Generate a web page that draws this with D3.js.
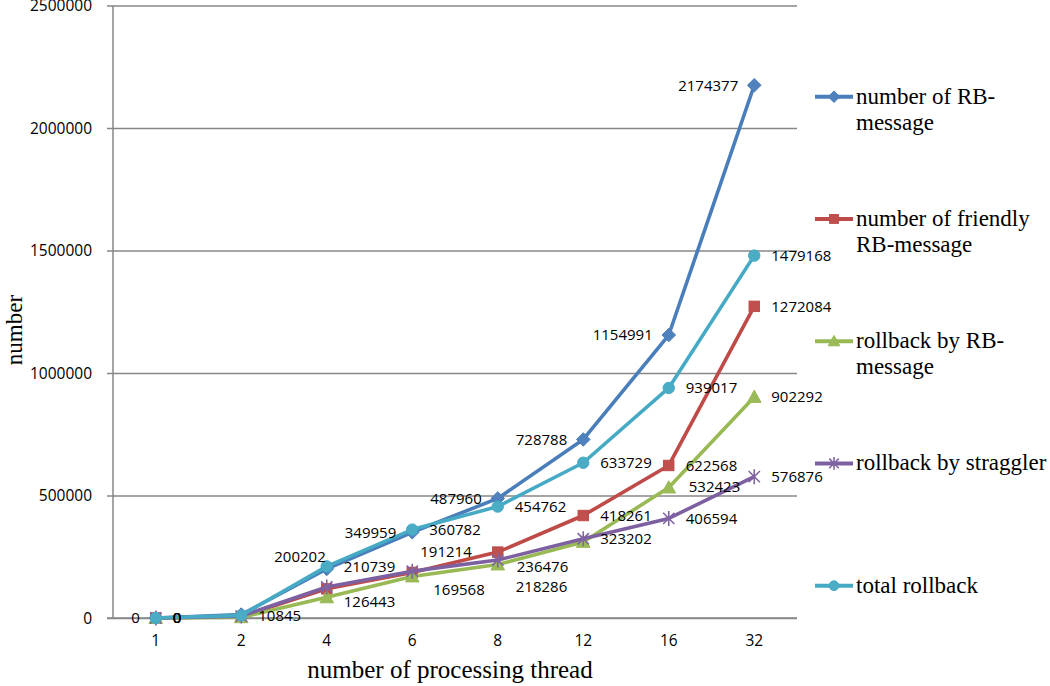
<!DOCTYPE html>
<html>
<head>
<meta charset="utf-8">
<script src="https://cdn.jsdelivr.net/npm/d3@7"></script>
<style>
  html, body { margin: 0; padding: 0; background: #fff; }
  svg { display: block; }
</style>
</head>
<body>
<svg id="chart" width="1050" height="686"></svg>
<script>
// ---------------- data ----------------
const categories = ["1", "2", "4", "6", "8", "12", "16", "32"];
const yTicks = [0, 500000, 1000000, 1500000, 2000000, 2500000];

const rbMessage       = [0, 14000, 200202, 349959, 487960, 728788, 1154991, 2174377];
const friendlyRB      = [0, 6000, 119000, 186000, 269000, 418261, 622568, 1272084];
const rollbackByRB    = [0, 3000, 84296, 169568, 218286, 310527, 532423, 902292];
const rollbackStrag   = [0, 7845, 126443, 191214, 236476, 323202, 406594, 576876];
const totalRollback   = [0, 10845, 210739, 360782, 454762, 633729, 939017, 1479168];

const seriesNames = [
  ["number of RB-", "message"],
  ["number of friendly", "RB-message"],
  ["rollback by RB-", "message"],
  ["rollback by straggler"],
  ["total rollback"]
];

// which points carry a visible data label
const labelIdx = [
  [0, 2, 3, 4, 5, 6, 7],
  [0, 5, 6, 7],
  [0, 3, 4, 6, 7],
  [0, 2, 3, 4, 5, 6, 7],
  [0, 1, 2, 3, 4, 5, 6, 7]
];

// ---------------- style ----------------
const styles = [
  { line: "#4A7EBB", fill: "#4F81BD", marker: "diamond", side: "left" },
  { line: "#BE4B48", fill: "#C0504D", marker: "square", side: "right" },
  { line: "#98B954", fill: "#9BBB59", marker: "triangle", side: "right" },
  { line: "#7D60A0", fill: "#8064A2", marker: "star", side: "right" },
  { line: "#46AAC5", fill: "#4BACC6", marker: "circle", side: "right" }
];
// manual label nudges (series index, point index) -> offset
const nudges = {
  "0-2": [15, -12],
  "3-2": [0, 15],
  "3-3": [-9, -19],
  "3-4": [2, 7],
  "2-3": [4, 13],
  "2-4": [1, 22],
  "2-6": [3, -1]
};

const seriesValues = [rbMessage, friendlyRB, rollbackByRB, rollbackStrag, totalRollback];

const W = 1050, H = 686;
const plot = { left: 113, right: 797, top: 5.5, bottom: 618 };
const svg = d3.select("#chart");

const x = d3.scaleBand().domain(categories).range([plot.left, plot.right]);
const cx = c => x(c) + x.bandwidth() / 2;
const y = d3.scaleLinear().domain([0, 2500000]).range([plot.bottom, plot.top]);

const sansFont = "'Open Sans', 'Liberation Sans', sans-serif";
const serifFont = "'Liberation Serif', 'DejaVu Serif', serif";

// gridlines + y axis
const yAxis = d3.axisLeft(y).tickValues(yTicks).tickSize(-(plot.right - plot.left)).tickPadding(15)
  .tickFormat(d3.format("d"));
const gy = svg.append("g").attr("transform", `translate(${plot.left},0)`).call(yAxis);
gy.select(".domain").remove();
gy.selectAll(".tick line").attr("stroke", "#878787").attr("stroke-width", 1.3)
  .attr("x1", -6);
gy.selectAll(".tick text").attr("font-family", sansFont).attr("font-size", 15.5)
  .attr("fill", "#000").attr("x", -21).attr("dy", "0.34em");

// y axis line
svg.append("line").attr("x1", plot.left).attr("x2", plot.left)
  .attr("y1", plot.top).attr("y2", plot.bottom)
  .attr("stroke", "#878787").attr("stroke-width", 1.5);

// x axis
const xAxis = d3.axisBottom(x).tickSize(0).tickPadding(17);
const gx = svg.append("g").attr("transform", `translate(0,${plot.bottom})`).call(xAxis);
gx.select(".domain").attr("stroke", "#878787").attr("stroke-width", 1.3)
  .attr("d", `M${plot.left - 6},0H${plot.right}`);
gx.selectAll(".tick text").attr("font-family", sansFont).attr("font-size", 15.5).attr("fill", "#000");

// axis titles
svg.append("text").attr("transform", "translate(22,330) rotate(-90)")
  .attr("text-anchor", "middle").attr("font-family", serifFont).attr("font-size", 23)
  .attr("fill", "#000").text("number");
svg.append("text").attr("x", 450).attr("y", 678)
  .attr("text-anchor", "middle").attr("font-family", serifFont).attr("font-size", 25)
  .attr("fill", "#000").text("number of processing thread");

// markers
function drawMarker(g, type, px, py, st, scale = 1) {
  const s = scale;
  if (type === "diamond") {
    const r = 6.8 * s;
    g.append("path").attr("d", `M${px},${py - r}L${px + r},${py}L${px},${py + r}L${px - r},${py}Z`)
      .attr("fill", st.fill).attr("stroke", st.line).attr("stroke-width", 1);
  } else if (type === "square") {
    const r = 5.2 * s;
    g.append("rect").attr("x", px - r).attr("y", py - r).attr("width", 2 * r).attr("height", 2 * r)
      .attr("fill", st.fill).attr("stroke", st.line).attr("stroke-width", 1);
  } else if (type === "triangle") {
    const r = 6.8 * s;
    g.append("path").attr("d", `M${px},${py - r}L${px + r},${py + r * 0.8}L${px - r},${py + r * 0.8}Z`)
      .attr("fill", st.fill).attr("stroke", st.line).attr("stroke-width", 1);
  } else if (type === "star") {
    const r = 7.5 * s;
    const d = r * 0.75;
    g.append("path").attr("d",
      `M${px - d},${py - d}L${px + d},${py + d}M${px - d},${py + d}L${px + d},${py - d}M${px},${py - r}L${px},${py + r}`)
      .attr("fill", "none").attr("stroke", st.fill).attr("stroke-width", 1.6);
  } else if (type === "circle") {
    g.append("circle").attr("cx", px).attr("cy", py).attr("r", 5.7 * s)
      .attr("fill", st.fill).attr("stroke", st.line).attr("stroke-width", 1);
  }
}

const line = d3.line().x((d, i) => cx(categories[i])).y(d => y(d));

const gSeries = svg.append("g");
seriesValues.forEach((vals, si) => {
  const st = styles[si];
  const g = gSeries.append("g");
  g.append("path").datum(vals).attr("d", line).attr("fill", "none")
    .attr("stroke", st.line).attr("stroke-width", 3.6).attr("stroke-linejoin", "round");
  vals.forEach((v, i) => drawMarker(g, st.marker, cx(categories[i]), y(v), st));
});

// data labels
const gLabels = svg.append("g");
seriesValues.forEach((vals, si) => {
  const st = styles[si];
  labelIdx[si].forEach(i => {
    const px = cx(categories[i]), py = y(vals[i]);
    const nd = nudges[`${si}-${i}`] || [0, 0];
    const left = st.side === "left";
    gLabels.append("text")
      .attr("x", (left ? px - 16 : px + 17) + nd[0])
      .attr("y", py + nd[1])
      .attr("dy", "0.35em")
      .attr("text-anchor", left ? "end" : "start")
      .attr("font-family", sansFont).attr("font-size", 15).attr("fill", "#000")
      .text(vals[i]);
  });
});

// legend
const legend = svg.append("g");
seriesNames.forEach((name, si) => {
  const st = styles[si];
  const ly = 96.7 + si * 122.25;
  legend.append("line").attr("x1", 815).attr("x2", 853).attr("y1", ly).attr("y2", ly)
    .attr("stroke", st.line).attr("stroke-width", 4);
  drawMarker(legend, st.marker, 834, ly, st, 0.85);
  const t = legend.append("text").attr("font-family", serifFont).attr("font-size", 23).attr("fill", "#000");
  name.forEach((ln, k) => {
    t.append("tspan").attr("x", 856).attr("y", ly + 7 + k * 26).text(ln);
  });
});
</script>
</body>
</html>
